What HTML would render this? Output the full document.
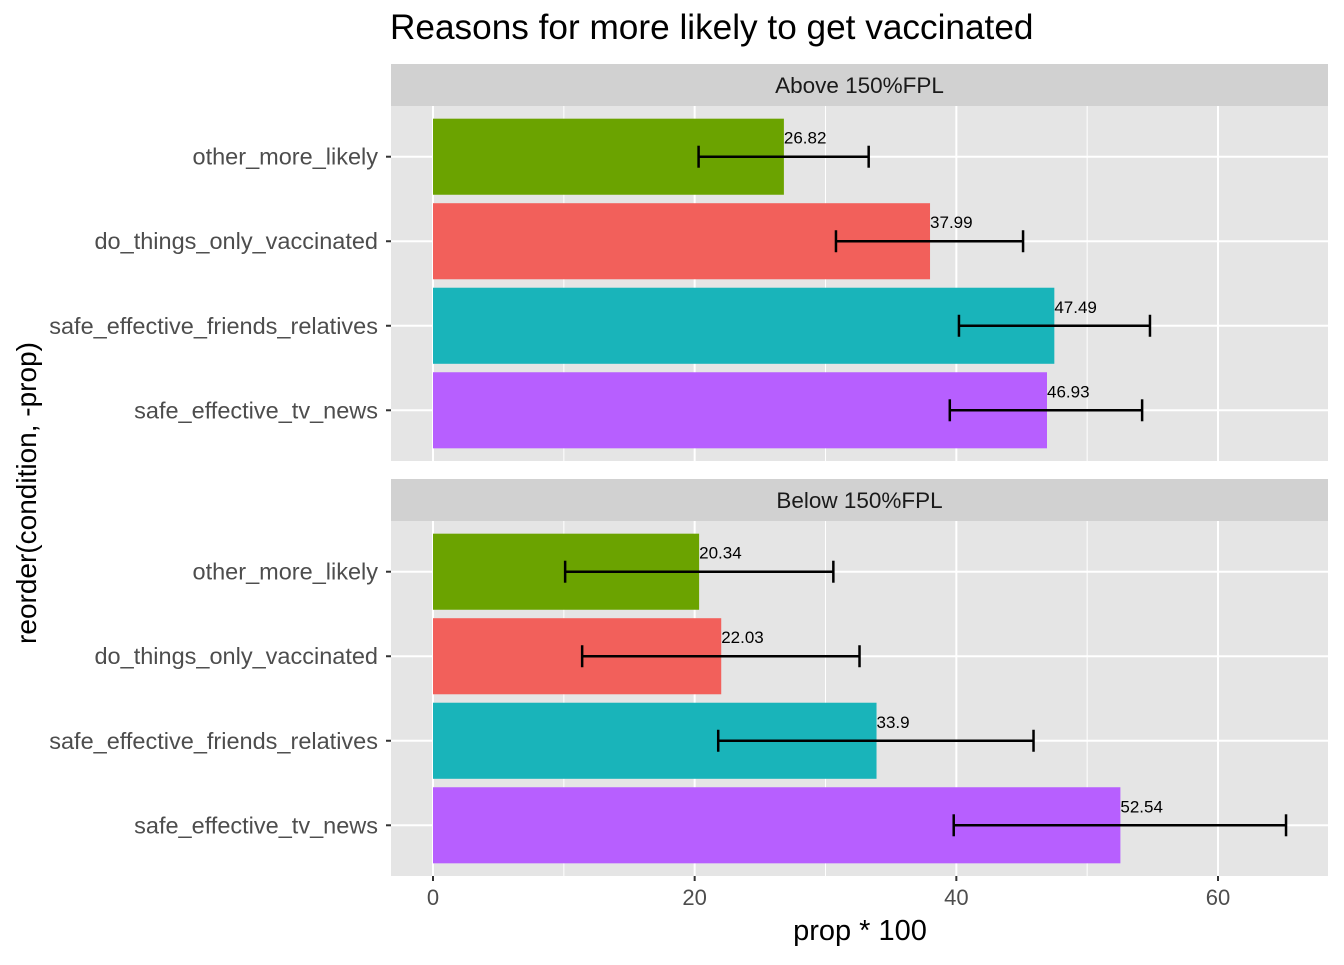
<!DOCTYPE html>
<html><head><meta charset="utf-8"><style>
body{margin:0;background:#fff;}
svg text{font-family:"Liberation Sans",Arial,sans-serif;}
</style></head><body>
<svg id="chart" width="1344" height="960" xmlns="http://www.w3.org/2000/svg">
<text x="390" y="39" font-size="35.2" fill="#000">Reasons for more likely to get vaccinated</text>
<text transform="translate(36,493) rotate(-90)" font-size="28" text-anchor="middle" fill="#000">reorder(condition, -prop)</text>
<text x="860" y="940" font-size="29" text-anchor="middle" fill="#000">prop * 100</text>
<g id="plot"></g>
</svg>
<script>
const categories=["other_more_likely","do_things_only_vaccinated","safe_effective_friends_relatives","safe_effective_tv_news"];
const colors=["#6BA300","#F2605B","#19B4BA","#B75FFF"];
const panels=["Above 150%FPL","Below 150%FPL"];
const aboveValues=[26.82,37.99,47.49,46.93];
const aboveLow=[20.3,30.8,40.2,39.5];
const aboveHigh=[33.3,45.1,54.8,54.2];
const belowValues=[20.34,22.03,33.9,52.54];
const belowLow=[10.1,11.4,21.8,39.8];
const belowHigh=[30.6,32.6,45.9,65.2];
const labelsAbove=["26.82","37.99","47.49","46.93"];
const labelsBelow=["20.34","22.03","33.9","52.54"];
const xTicks=[0,20,40,60];
const xMinor=[10,30,50];

const NS="http://www.w3.org/2000/svg";
const g=document.getElementById('plot');
const X0=433,SC=(1218-433)/60;
const xs=v=>X0+v*SC;
const PL=391,PR=1328;
function el(t,a,p){const e=document.createElementNS(NS,t);for(const k in a)e.setAttribute(k,a[k]);(p||g).appendChild(e);return e;}
const panelTops=[106,521],PH=355;
const data=[[aboveValues,aboveLow,aboveHigh,labelsAbove],[belowValues,belowLow,belowHigh,labelsBelow]];
panels.forEach((name,pi)=>{
  const top=panelTops[pi];
  const strip=el('rect',{x:PL,y:top-42,width:PR-PL,height:42,fill:'#D1D1D1'});
  
  
  const st=el('text',{x:(PL+PR)/2,y:top-13,'font-size':22.5,'text-anchor':'middle',fill:'#1a1a1a'});
  st.textContent=name;
  
  
  const bg=el('rect',{x:PL,y:top,width:PR-PL,height:PH,fill:'#E5E5E5'});
  
  
  xMinor.forEach(v=>el('line',{x1:xs(v),x2:xs(v),y1:top,y2:top+PH,stroke:'#fff','stroke-width':1}));
  xTicks.forEach(v=>el('line',{x1:xs(v),x2:xs(v),y1:top,y2:top+PH,stroke:'#fff','stroke-width':2}));
  const step=PH/4.2;
  const [vals,lo,hi,lab]=data[pi];
  categories.forEach((c,i)=>{
    const cy=top+step*(0.6+i);
    el('line',{x1:PL,x2:PR,y1:cy,y2:cy,stroke:'#fff','stroke-width':2});
  });
  categories.forEach((c,i)=>{
    const cy=top+step*(0.6+i);
    const bh=step*0.9;
    const b=el('rect',{x:xs(0),y:cy-bh/2,width:xs(vals[i])-xs(0),height:bh,fill:colors[i]});
    
    
    const eb=el('g',{stroke:'#000','stroke-width':2.5});
    
    
    el('line',{x1:xs(lo[i]),x2:xs(hi[i]),y1:cy,y2:cy},eb);
    el('line',{x1:xs(lo[i]),x2:xs(lo[i]),y1:cy-11,y2:cy+11},eb);
    el('line',{x1:xs(hi[i]),x2:xs(hi[i]),y1:cy-11,y2:cy+11},eb);
    const t=el('text',{x:xs(vals[i]),y:cy-13,'font-size':17,fill:'#000'});
    t.textContent=lab[i];
    
    
    el('line',{x1:PL-5,x2:PL,y1:cy,y2:cy,stroke:'#333','stroke-width':2});
    const yl=el('text',{x:PL-13,y:cy+8,'font-size':23.5,'text-anchor':'end',fill:'#4D4D4D'});
    yl.textContent=c;
    
    
  });
});
xTicks.forEach(v=>{
  el('line',{x1:xs(v),x2:xs(v),y1:876,y2:881,stroke:'#333','stroke-width':2});
  const t=el('text',{x:xs(v),y:905,'font-size':22,'text-anchor':'middle',fill:'#4D4D4D'});
  t.textContent=v;
  
  
});
</script>
</body></html>
